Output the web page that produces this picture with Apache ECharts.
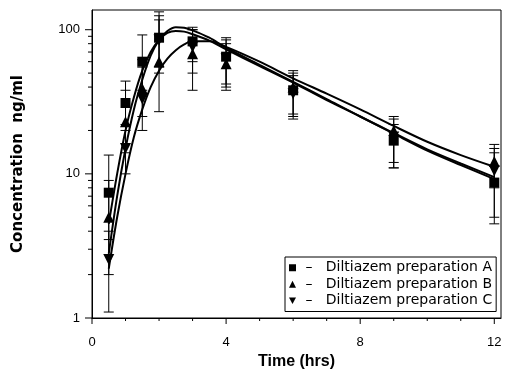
<!DOCTYPE html>
<html>
<head>
<meta charset="utf-8">
<script src="https://cdn.jsdelivr.net/npm/echarts@6/dist/echarts.min.js"></script>
<style>html,body{margin:0;padding:0;background:#fff}#c{width:506px;height:375px}</style>
</head>
<body>
<div id="c"></div>
<script>
// Observed time points (hrs)
var times = [0.5, 1, 1.5, 2, 3, 4, 6, 9, 12];
// Mean concentrations (ng/ml)
var prepA = [7.4, 31, 60, 88, 83, 65, 38, 17, 8.7];
var prepB = [5.0, 23, 39, 60, 68, 58, 40, 20, 12.2];
var prepC = [2.55, 15, 33, 85, 76, 63, 36, 18, 10.5];
// Error bar limits
var lowA = [3.5, 22, 38, 55, 60, 40, 26, 11, 5];
var highA = [13.5, 44, 92, 125, 100, 85, 52, 24, 14];
var lowB = [2, 14, 25, 27, 38, 38, 25, 12, 8];
var highB = [9, 38, 62, 133, 104, 88, 50, 25, 16];
var lowC = [1.1, 10, 20, 50, 50, 42, 24, 11, 4.5];
var highC = [4, 20, 55, 117, 100, 80, 48, 22, 15];
// Fitted curves
var fitT = [0.5, 0.75, 1, 1.25, 1.5, 1.75, 2, 2.25, 2.5, 2.75, 3, 3.5, 4, 5, 6, 7, 8, 9, 10, 11, 12];
var fitA = [4.5, 10, 20, 34, 52, 70, 85, 95, 98, 97, 93, 84, 73, 56, 43, 32.5, 25, 19, 14.5, 11.5, 9.2];
var fitB = [2.2, 5, 10, 18, 28, 40, 52, 63, 72, 79, 83, 83, 76, 60, 46, 36, 28, 21.5, 16.7, 13.5, 11.2];
var fitC = [2.8, 7, 15, 28, 45, 66, 85, 98, 104, 103, 99, 88, 75, 57, 43.5, 33, 25, 19.2, 14.8, 11.8, 9.5];
// Tick values
var xMajorTicks = [0, 4, 8, 12];
var xMinorTicks = [1, 2, 3, 5, 6, 7, 9, 10, 11];
var yMajorTicks = [1, 10, 100];
var yMinorTicks = [2, 3, 4, 5, 6, 7, 8, 9, 20, 30, 40, 50, 60, 70, 80, 90];
var names = ['Diltiazem preparation A', 'Diltiazem preparation B', 'Diltiazem preparation C'];

var X_MAX = 12.2, Y_MAX = 137;
var chart = echarts.init(document.getElementById('c'));

function pairs(xs, ys) { return xs.map(function (x, i) { return [x, ys[i]]; }); }
function triples(xs, lo, hi) { return xs.map(function (x, i) { return [x, lo[i], hi[i]]; }); }

function errRender(params, api) {
  var x = api.value(0);
  var p1 = api.coord([x, api.value(1)]);
  var p2 = api.coord([x, api.value(2)]);
  var hw = 5;
  var st = { stroke: '#000', lineWidth: 1 };
  return { type: 'group', children: [
    { type: 'line', shape: { x1: p1[0], y1: p1[1], x2: p2[0], y2: p2[1] }, style: st },
    { type: 'line', shape: { x1: p1[0] - hw, y1: p1[1], x2: p1[0] + hw, y2: p1[1] }, style: st },
    { type: 'line', shape: { x1: p2[0] - hw, y1: p2[1], x2: p2[0] + hw, y2: p2[1] }, style: st }
  ]};
}
function xTickRender(len) {
  return function (params, api) {
    var p = api.coord([api.value(0), 1]);
    return { type: 'line', shape: { x1: p[0], y1: p[1], x2: p[0], y2: p[1] + len }, style: { stroke: '#000', lineWidth: 1 } };
  };
}
function yTickRender(len) {
  return function (params, api) {
    var p = api.coord([0, api.value(0)]);
    return { type: 'line', shape: { x1: p[0] - len, y1: p[1], x2: p[0], y2: p[1] }, style: { stroke: '#000', lineWidth: 1 } };
  };
}

var invTri = 'path://M0,0 L10,0 L5,9 Z';
var symbols = ['rect', 'triangle', invTri];
var symSizes = [10, 11, 11];
var means = [prepA, prepB, prepC];
var lows = [lowA, lowB, lowC];
var highs = [highA, highB, highC];
var fits = [fitA, fitB, fitC];

var series = [];
for (var k = 0; k < 3; k++) {
  series.push({ type: 'custom', renderItem: errRender, data: triples(times, lows[k], highs[k]), clip: false, silent: true, z: 2 });
  series.push({ type: 'line', data: pairs(fitT, fits[k]), smooth: 0.3, showSymbol: false, lineStyle: { color: '#000', width: 2 }, z: 3, silent: true });
  series.push({ name: names[k], type: 'scatter', data: pairs(times, means[k]), symbol: symbols[k], symbolSize: symSizes[k], itemStyle: { color: '#000', opacity: 1 }, z: 4 });
}
series.push({ type: 'custom', renderItem: xTickRender(6), data: xMajorTicks.map(function (v) { return [v]; }), clip: false, silent: true });
series.push({ type: 'custom', renderItem: xTickRender(3), data: xMinorTicks.map(function (v) { return [v]; }), clip: false, silent: true });
series.push({ type: 'custom', renderItem: yTickRender(7), data: yMajorTicks.map(function (v) { return [v]; }), clip: false, silent: true, encode: { y: 0 } });
series.push({ type: 'custom', renderItem: yTickRender(4), data: yMinorTicks.map(function (v) { return [v]; }), clip: false, silent: true, encode: { y: 0 } });

chart.setOption({
  animation: false,
  textStyle: { fontFamily: 'Liberation Sans', color: '#000' },
  grid: { left: 92, right: 5, top: 10, bottom: 50, show: true, borderColor: '#000', borderWidth: 1 },
  xAxis: {
    type: 'value', min: 0, max: X_MAX, interval: 4,
    name: 'Time (hrs)', nameLocation: 'middle', nameGap: 36,
    nameTextStyle: { fontSize: 16, fontWeight: 'bold', color: '#000', fontFamily: 'Liberation Sans' },
    axisLine: { lineStyle: { color: '#000', width: 1 } },
    axisTick: { show: false },
    splitLine: { show: false },
    axisLabel: { color: '#000', fontSize: 13, margin: 18, showMaxLabel: false,
      formatter: function (v) { return xMajorTicks.indexOf(v) >= 0 ? String(v) : ''; } }
  },
  yAxis: {
    type: 'log', logBase: 10, min: 1, max: Y_MAX,
    name: 'Concentration  ng/ml', nameLocation: 'middle', nameGap: 66,
    nameTextStyle: { fontSize: 15, fontWeight: 'bold', color: '#000', fontFamily: 'DejaVu Sans' },
    axisLine: { lineStyle: { color: '#000', width: 1 } },
    axisTick: { show: false },
    splitLine: { show: false },
    axisLabel: { color: '#000', fontSize: 13, margin: 12, showMaxLabel: false,
      formatter: function (v) {
        for (var i = 0; i < yMajorTicks.length; i++) { if (Math.abs(v - yMajorTicks[i]) < 1e-6 * yMajorTicks[i]) return String(yMajorTicks[i]); }
        return '';
      } }
  },
  legend: {
    data: names, orient: 'vertical', left: 285, top: 257,
    itemWidth: 7, itemHeight: 7, itemGap: 1,
    borderColor: '#000', borderWidth: 1, padding: [3, 4, 3, 4],
    textStyle: { fontSize: 14, lineHeight: 15.5, color: '#000', fontFamily: 'DejaVu Sans' },
    formatter: function (n) { return ' \u2013   ' + n; },
    selectedMode: false
  },
  series: series
});
</script>
</body>
</html>
